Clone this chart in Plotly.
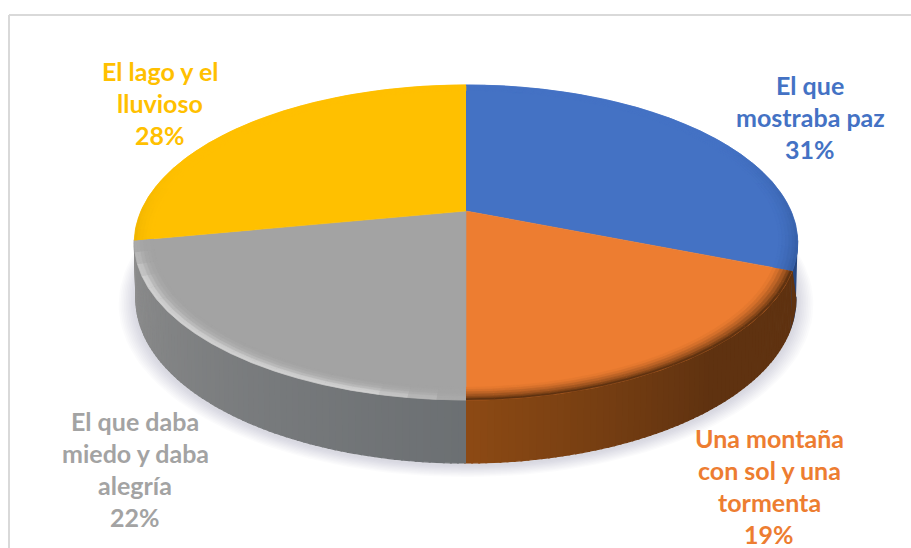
import numpy as np
import plotly.graph_objects as go

categories = ["El que mostraba paz", "Una montaña con sol y una tormenta",
              "El que daba miedo y daba alegría", "El lago y el lluvioso"]
values = [31, 19, 22, 28]
label_lines = [["El que", "mostraba paz", "31%"],
               ["Una montaña", "con sol y una", "tormenta", "19%"],
               ["El que daba", "miedo y daba", "alegría", "22%"],
               ["El lago y el", "lluvioso", "28%"]]
colors = ["#4472c4", "#ed7d31", "#a3a3a3", "#ffc000"]
label_centres = [(810, 85), (769, 437.5), (135, 421), (160, 71)]
LINE_STEP = 32

# perspective disc -> page mapping
CX, CY, R, KY, K, DEPTH = 466, 211, 325, 151.2, 0.2, 63
VIS_A = 100.8


def project(theta_deg, r=1.0):
    t = np.radians(theta_deg)
    u, v = r * np.sin(t), r * np.cos(t)
    d = 1 + K * v
    return CX + R * u / d, CY - KY * v / d


def project_low(theta_deg, r=1.0):
    """Rim of the disc's underside: the wall looks shorter towards the sides."""
    x, y = project(theta_deg, r)
    t = np.radians(theta_deg)
    return CX + (x - CX) * 0.995, y + DEPTH * (0.87 - 0.13 * np.cos(t))


def hexrgb(c):
    return np.array([int(c[i:i + 2], 16) for i in (1, 3, 5)], float)


def mix(a, b, f):
    c = hexrgb(a) * (1 - f) + hexrgb(b) * f
    return "rgb(%d,%d,%d)" % tuple(c.round())


def poly(xs, ys, color, lw=0.6):
    return go.Scatter(x=list(xs), y=list(ys), mode="lines", fill="toself", fillcolor=color,
                      line=dict(color=color, width=lw), hoverinfo="skip", showlegend=False)


cum = np.concatenate([[0], np.cumsum(values)]) * 360 / sum(values)
fig = go.Figure()

# soft shadow beneath the disc
th_all = np.linspace(0, 360, 181)
for i in range(10):
    grow = 1.05 - i * 0.005
    x1, y1 = project_low(th_all, grow)
    fig.add_trace(go.Scatter(x=list(x1), y=list(y1 + 2), mode="lines", fill="toself",
                             fillcolor="rgba(130,135,150,0.03)", line=dict(width=0),
                             hoverinfo="skip", showlegend=False))


def wall(a, b, col):
    th = np.linspace(a, b, 4)
    x1, y1 = project(th)
    x2, y2 = project_low(th[::-1])
    fig.add_trace(poly(np.r_[x1, x2], np.r_[y1, y2], col, 1.2))


# blue wall sliver, then the brown wall that runs past its edge
wall(VIS_A, cum[1], "#26467f")
x_a, y_a = project(cum[1])
th = np.linspace(VIS_A + 1, cum[1], 5)
x_b, y_b = project_low(th)
fig.add_trace(poly(np.r_[x_a, x_b], np.r_[y_a, y_b], "#5f3210", 1.0))

# orange and gray walls as fine angular strips
for k, dark, light in ((1, "#8d4a14", "#5f3210"), (2, "#6c7073", "#8e8e8e")):
    a, b = cum[k], cum[k + 1]
    n = int(b - a)
    edges = np.linspace(a, b, n + 1)
    for j in range(n):
        if k == 1:
            col = mix(dark, light, min(1, (b - edges[j]) / 40))
        else:
            col = mix(dark, light, min(1, (edges[j] - a) / (b - a)) ** 1.1)
        wall(edges[j], edges[j + 1] + 0.2, col)

# top faces
for k in range(4):
    th = np.linspace(cum[k], cum[k + 1], 90)
    x, y = project(th)
    fig.add_trace(poly(np.r_[CX, x], np.r_[CY, y], colors[k]))

# bevel: rings along the rim blending into the wall
radii = [0.945, 0.955, 0.965, 0.975, 0.985, 0.993, 1.0]
rim = ["#2f5597", "#5f3210", "#d2d2d2", "#d9a400"]
for k in range(4):
    a, b = cum[k], cum[k + 1]
    n = max(2, int((b - a) / 4))
    edges = np.linspace(a, b, n + 1)
    for ri in range(len(radii) - 1):
        f = (ri + 1) / (len(radii) - 1)
        for j in range(n):
            mid = (edges[j] + edges[j + 1]) / 2
            if k == 0:
                amt = np.clip((mid - 60) / 50, 0, 1) * 0.7 * f ** 1.5
            elif k == 1:
                amt = f ** 1.6
            elif k == 2:
                span = np.clip(min((mid - a) / 14, (b - mid) / 14), 0, 1)
                amt = span * 0.95 * [0.0, 0.08, 0.22, 0.5, 0.9, 1.0][ri]
            else:
                amt = np.clip((290 - mid) / 30, 0, 1) * 0.4 * f ** 2
            col = mix(colors[k], rim[k], amt)
            th = np.linspace(edges[j], edges[j + 1], 3)
            x1, y1 = project(th, radii[ri])
            x2, y2 = project(th[::-1], radii[ri + 1])
            fig.add_trace(poly(np.r_[x1, x2], np.r_[y1, y2], col))

# labels
annotations = []
for lines, (cx, y0), col in zip(label_lines, label_centres, colors):
    for i, line in enumerate(lines):
        annotations.append(dict(x=cx, y=y0 + i * LINE_STEP, text="<b>%s</b>" % line, showarrow=False,
                                xanchor="center", yanchor="middle",
                                font=dict(family="Lato", size=25, color=col)))

# chart-area frame
shapes = [
    dict(type="line", x0=9, x1=9, y0=15, y1=548, line=dict(color="#d9d9d9", width=2), layer="below"),
    dict(type="line", x0=9, x1=911, y0=15, y1=15, line=dict(color="#d9d9d9", width=2), layer="below"),
]

fig.update_layout(
    width=911, height=548, margin=dict(l=0, r=0, t=0, b=0),
    paper_bgcolor="white", plot_bgcolor="white", showlegend=False,
    xaxis=dict(range=[0, 911], visible=False, fixedrange=True),
    yaxis=dict(range=[548, 0], visible=False, fixedrange=True),
    annotations=annotations, shapes=shapes,
)
fig.write_html("out.html", config={"displayModeBar": False},
               post_script="document.body.style.margin='0';")
